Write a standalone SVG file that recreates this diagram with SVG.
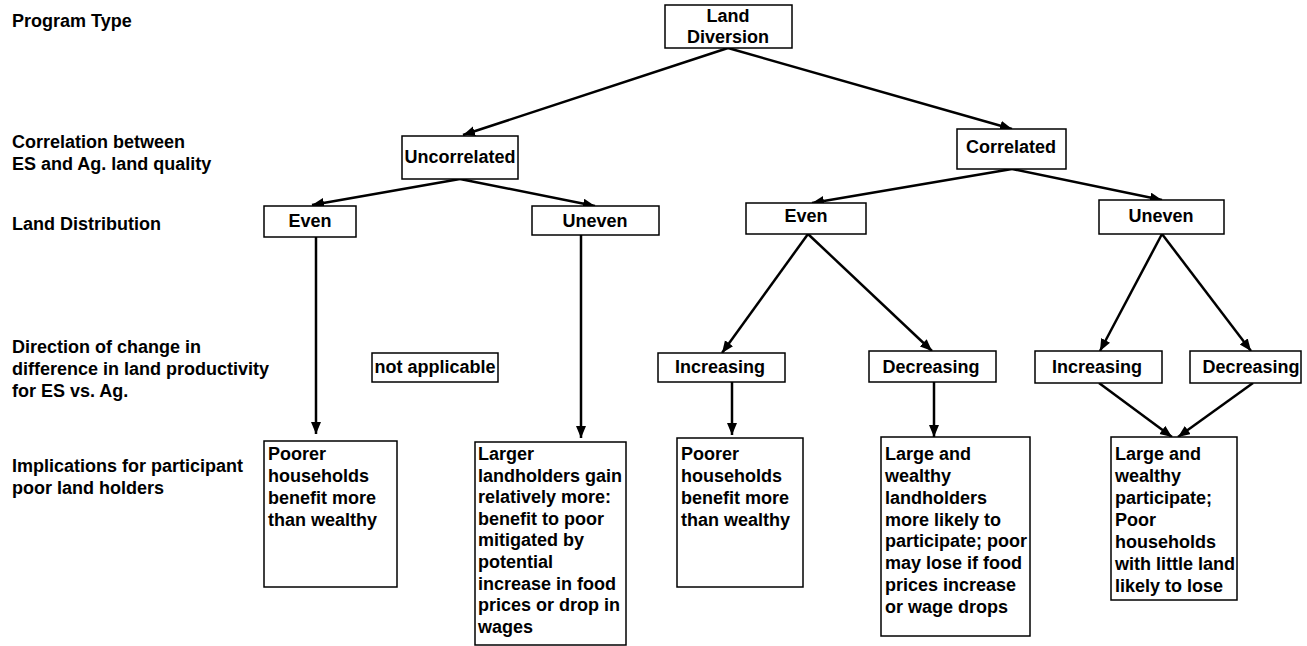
<svg xmlns="http://www.w3.org/2000/svg" width="1307" height="646" viewBox="0 0 1307 646">
<style>
text{font-family:"Liberation Sans",Arial,Helvetica,sans-serif;font-weight:bold;font-size:18px;fill:#000}
.c{text-anchor:middle}
.box{fill:#fff;stroke:#000;stroke-width:1.5}
.conn line{stroke:#000;stroke-width:2.5;marker-end:url(#ah)}
</style>
<defs>
<marker id="ah" markerUnits="userSpaceOnUse" markerWidth="13" markerHeight="11" refX="12" refY="5" orient="auto">
<path d="M0,0 L12,5 L0,10 z" fill="#000"/>
</marker>
</defs>
<rect width="1307" height="646" fill="#fff"/>
<g id="labels">
<text x="12" y="27">Program Type</text>
<text x="12" y="148">Correlation between</text>
<text x="12" y="170">ES and Ag. land quality</text>
<text x="12" y="230">Land Distribution</text>
<text x="12" y="353">Direction of change in</text>
<text x="12" y="375">difference in land productivity</text>
<text x="12" y="397">for ES vs. Ag.</text>
<text x="12" y="472">Implications for participant</text>
<text x="12" y="494">poor land holders</text>
</g>
<g class="conn" id="connectors">
<line x1="728" y1="48" x2="463" y2="135"/>
<line x1="728" y1="48" x2="1012" y2="129"/>
<line x1="460" y1="179" x2="312" y2="205"/>
<line x1="460" y1="179" x2="595" y2="206"/>
<line x1="1012" y1="169" x2="812" y2="203"/>
<line x1="1012" y1="169" x2="1162" y2="200"/>
<line x1="316" y1="237" x2="316" y2="434"/>
<line x1="581" y1="235" x2="581" y2="438"/>
<line x1="808" y1="234" x2="722" y2="353"/>
<line x1="808" y1="234" x2="932" y2="351"/>
<line x1="1162" y1="234" x2="1100" y2="351"/>
<line x1="1162" y1="234" x2="1251" y2="351"/>
<line x1="732" y1="382" x2="732" y2="435"/>
<line x1="934" y1="382" x2="934" y2="437"/>
<line x1="1099" y1="383" x2="1172" y2="437"/>
<line x1="1253" y1="383" x2="1178" y2="437"/>
</g>
<g id="n-land-diversion">
<rect class="box" x="665" y="5" width="127" height="43"/>
<text class="c" x="728" y="22">Land</text>
<text class="c" x="728" y="43">Diversion</text>
</g>
<g id="n-uncorrelated">
<rect class="box" x="402" y="136" width="116" height="43"/>
<text class="c" x="460" y="163">Uncorrelated</text>
</g>
<g id="n-correlated">
<rect class="box" x="957" y="129" width="109" height="40"/>
<text class="c" x="1011" y="153">Correlated</text>
</g>
<g id="n-even-u">
<rect class="box" x="264" y="206" width="92" height="31"/>
<text class="c" x="310" y="227">Even</text>
</g>
<g id="n-uneven-u">
<rect class="box" x="532" y="206" width="127" height="29"/>
<text class="c" x="595" y="227">Uneven</text>
</g>
<g id="n-even-c">
<rect class="box" x="746" y="203" width="120" height="31"/>
<text class="c" x="806" y="222">Even</text>
</g>
<g id="n-uneven-c">
<rect class="box" x="1099" y="200" width="125" height="34"/>
<text class="c" x="1161" y="222">Uneven</text>
</g>
<g id="n-not-applicable">
<rect class="box" x="372" y="353" width="126" height="29"/>
<text class="c" x="435" y="373">not applicable</text>
</g>
<g id="n-increasing-1">
<rect class="box" x="658" y="353" width="127" height="29"/>
<text class="c" x="720" y="373">Increasing</text>
</g>
<g id="n-decreasing-1">
<rect class="box" x="869" y="351" width="127" height="31"/>
<text class="c" x="931" y="373">Decreasing</text>
</g>
<g id="n-increasing-2">
<rect class="box" x="1035" y="351" width="127" height="32"/>
<text class="c" x="1097" y="373">Increasing</text>
</g>
<g id="n-decreasing-2">
<rect class="box" x="1190" y="351" width="111" height="32"/>
<text class="c" x="1251" y="373">Decreasing</text>
</g>
<g id="n-impl-1">
<rect class="box" x="264" y="441" width="133" height="146"/>
<text x="268" y="460">Poorer</text>
<text x="268" y="482">households</text>
<text x="268" y="504">benefit more</text>
<text x="268" y="526">than wealthy</text>
</g>
<g id="n-impl-2">
<rect class="box" x="475" y="442" width="151" height="203"/>
<text x="478" y="460">Larger</text>
<text x="478" y="482">landholders gain</text>
<text x="478" y="503">relatively more:</text>
<text x="478" y="525">benefit to poor</text>
<text x="478" y="546">mitigated by</text>
<text x="478" y="568">potential</text>
<text x="478" y="590">increase in food</text>
<text x="478" y="611">prices or drop in</text>
<text x="478" y="633">wages</text>
</g>
<g id="n-impl-3">
<rect class="box" x="677" y="438" width="126" height="149"/>
<text x="681" y="460">Poorer</text>
<text x="681" y="482">households</text>
<text x="681" y="504">benefit more</text>
<text x="681" y="526">than wealthy</text>
</g>
<g id="n-impl-4">
<rect class="box" x="881" y="437" width="149" height="199"/>
<text x="885" y="460">Large and</text>
<text x="885" y="482">wealthy</text>
<text x="885" y="504">landholders</text>
<text x="885" y="526">more likely to</text>
<text x="885" y="547">participate; poor</text>
<text x="885" y="569">may lose if food</text>
<text x="885" y="591">prices increase</text>
<text x="885" y="613">or wage drops</text>
</g>
<g id="n-impl-5">
<rect class="box" x="1111" y="437" width="126" height="163"/>
<text x="1115" y="460">Large and</text>
<text x="1115" y="482">wealthy</text>
<text x="1115" y="504">participate;</text>
<text x="1115" y="526">Poor</text>
<text x="1115" y="548">households</text>
<text x="1115" y="570">with little land</text>
<text x="1115" y="592">likely to lose</text>
</g>
</svg>
